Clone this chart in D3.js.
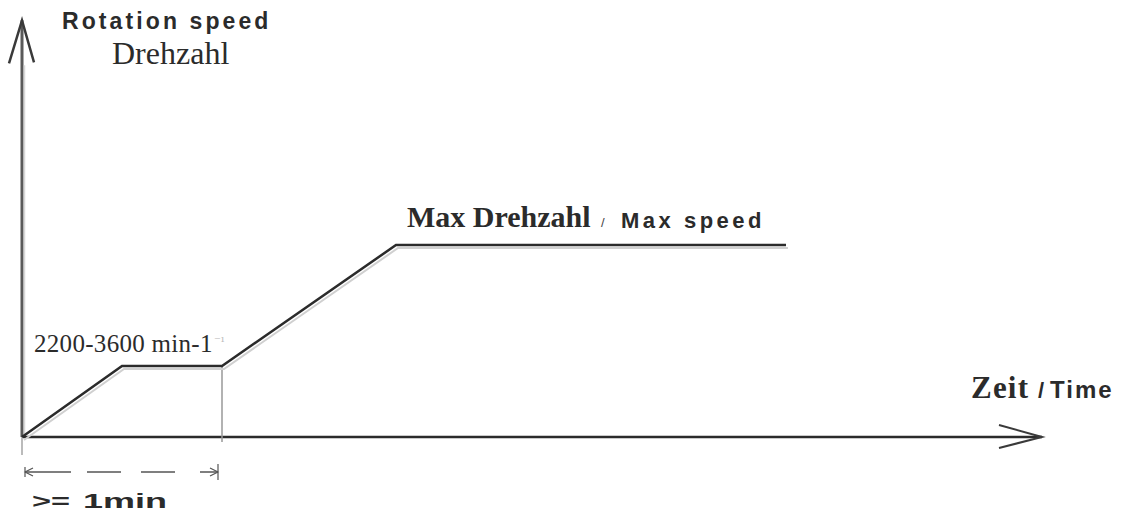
<!DOCTYPE html>
<html><head><meta charset="utf-8">
<script src="https://cdn.jsdelivr.net/npm/d3@7"></script>
<style>html,body{margin:0;padding:0;background:#fff;overflow:hidden}svg{display:block;position:absolute;left:0;top:0}</style>
</head><body>
<script>
// Data (time in minutes, speed as fraction of max speed)
const timePoints = [0, 0.5, 1.0, 1.87, 3.82];
const speedValues = [0, 0.37, 0.37, 1.0, 1.0];
const axisMaxTime = 5.1;
const axisMaxSpeed = 2.17;
const labels = {
  yEn: "Rotation speed", yDe: "Drehzahl",
  maxDe: "Max Drehzahl", maxSlash: "/", maxEn: "Max speed",
  low: "2200-3600 min-1", lowSup: "⁻¹",
  xDe: "Zeit", xSlash: "/", xEn: "Time", durA: ">=", durB: "1min"
};

const W = 1121, H = 515;
const svg = d3.select("body").append("svg").attr("width", W).attr("height", H);
const x = d3.scaleLinear().domain([0, 1]).range([22, 222]);
const y = d3.scaleLinear().domain([0, 1]).range([437, 245]);
const ink = "#2b2b2b";

// axes
svg.append("line").attr("x1", x(0)).attr("y1", y(0)).attr("x2", x(0)).attr("y2", y(axisMaxSpeed))
  .attr("stroke", "#5a5a5a").attr("stroke-width", 3);
svg.append("line").attr("x1", x(0)+2.5).attr("y1", y(0)).attr("x2", x(0)+2.5).attr("y2", y(axisMaxSpeed)+45)
  .attr("stroke", "#d8d8d8").attr("stroke-width", 1.5);
svg.append("path").attr("d", `M${x(0)-13},${y(axisMaxSpeed)+43} L${x(0)},${y(axisMaxSpeed)} L${x(0)+12},${y(axisMaxSpeed)+42}`)
  .attr("fill", "none").attr("stroke", "#3a3a3a").attr("stroke-width", 2.5);
svg.append("line").attr("x1", x(0)).attr("y1", y(0)).attr("x2", x(axisMaxTime)).attr("y2", y(0))
  .attr("stroke", ink).attr("stroke-width", 2.5);
svg.append("path").attr("d", `M${x(axisMaxTime)-43},${y(0)-12} L${x(axisMaxTime)},${y(0)} L${x(axisMaxTime)-43},${y(0)+11}`)
  .attr("fill", "none").attr("stroke", "#3a3a3a").attr("stroke-width", 2);

// small tick below origin
svg.append("line").attr("x1", x(0)).attr("y1", y(0)).attr("x2", x(0)).attr("y2", y(0)+18)
  .attr("stroke", "#bbb").attr("stroke-width", 2);

// vertical marker at 1 min
svg.append("line").attr("x1", x(1)).attr("y1", y(speedValues[2])).attr("x2", x(1)).attr("y2", y(0)+5)
  .attr("stroke", "#999").attr("stroke-width", 1.5);

// speed curve
const pts = timePoints.map((t, i) => [x(t), y(speedValues[i])]);
svg.append("path").attr("d", d3.line()(pts.map(p => [p[0]+2, p[1]+3])))
  .attr("fill", "none").attr("stroke", "#d0d0d0").attr("stroke-width", 2);
svg.append("path").attr("d", d3.line()(pts))
  .attr("fill", "none").attr("stroke", ink).attr("stroke-width", 2.5);

// dimension line
const dy = 472;
svg.append("line").attr("x1", x(0)+3).attr("y1", dy).attr("x2", x(1)-4).attr("y2", dy)
  .attr("stroke", "#555").attr("stroke-width", 1.3).attr("stroke-dasharray", "46,16,34,20,34,25");
svg.append("path").attr("d", `M${x(0)+11},${dy-4} L${x(0)+3},${dy} L${x(0)+11},${dy+4} M${x(0)+3},${dy-5} L${x(0)+3},${dy+5}`)
  .attr("fill", "none").attr("stroke", "#555").attr("stroke-width", 1.2);
svg.append("path").attr("d", `M${x(1)-12},${dy-4} L${x(1)-4},${dy} L${x(1)-12},${dy+4} M${x(1)-4},${dy-8} L${x(1)-4},${dy+8}`)
  .attr("fill", "none").attr("stroke", "#555").attr("stroke-width", 1.2);

// texts
const sans = "'Liberation Sans', Arial, sans-serif";
const serif = "'Liberation Serif', 'DejaVu Serif', serif";
function t(xp, yp, str, fam, size, weight, ls, fill) {
  return svg.append("text").attr("x", xp).attr("y", yp).attr("font-family", fam)
    .attr("font-size", size).attr("font-weight", weight || "normal")
    .attr("letter-spacing", ls || 0).attr("fill", fill || ink).text(str);
}
t(62, 29, labels.yEn, sans, 23, "bold", 3.1);
t(112, 64, labels.yDe, serif, 32, "normal", 0);
t(407, 227, labels.maxDe, serif, 30, "bold", 0);
t(601, 227, labels.maxSlash, sans, 13, "normal", 0, "#444");
t(621, 228, labels.maxEn, sans, 22, "bold", 3.5);
t(34, 352, labels.low, serif, 25, "normal", 0.3);
t(214, 345, labels.lowSup, serif, 13, "normal", 0, "#bbb");
t(971, 398, labels.xDe, serif, 31, "bold", 1.2);
t(1038, 398, labels.xSlash, sans, 22, "bold", 0);
t(1050, 398, labels.xEn, sans, 24, "bold", 2);
t(32, 508, labels.durA, sans, 20, "bold", 0).attr("textLength", 38).attr("lengthAdjust", "spacingAndGlyphs");
t(83, 508, labels.durB, sans, 20, "bold", 0).attr("textLength", 84).attr("lengthAdjust", "spacingAndGlyphs");
</script>
</body></html>
